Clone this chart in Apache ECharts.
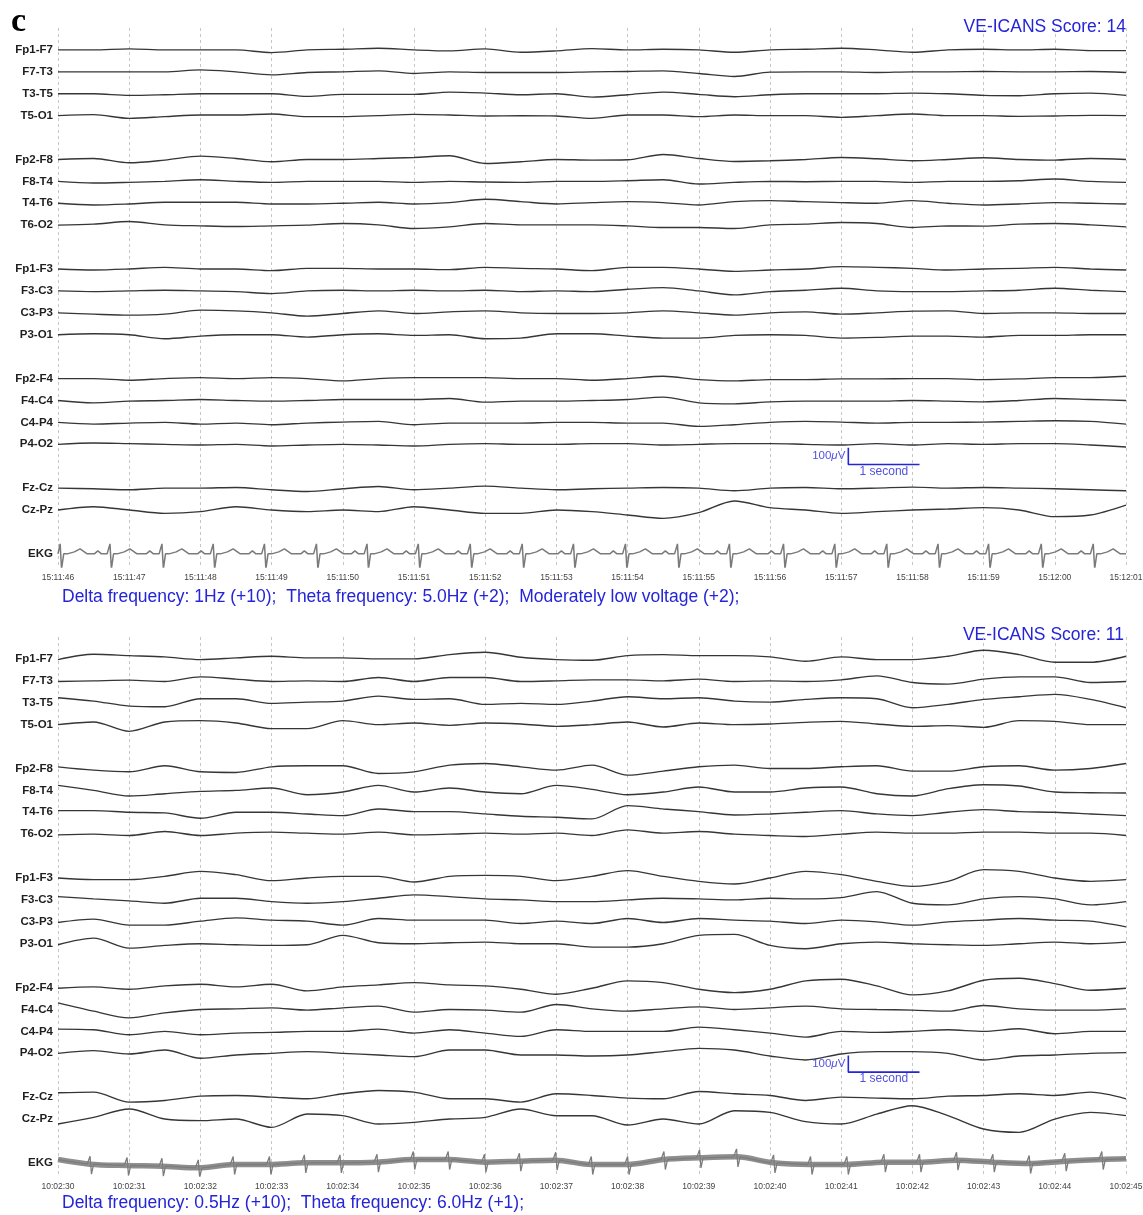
<!DOCTYPE html>
<html><head><meta charset="utf-8">
<script src="https://cdn.jsdelivr.net/npm/echarts@6/dist/echarts.min.js"></script>
<style>html,body{margin:0;padding:0;background:#fff}#c{width:1143px;height:1215px}</style>
</head><body><div id="c"></div>
<script>
// ---------- labels ----------
const channels = ['Fp1-F7','F7-T3','T3-T5','T5-O1','Fp2-F8','F8-T4','T4-T6','T6-O2','Fp1-F3','F3-C3','C3-P3','P3-O1','Fp2-F4','F4-C4','C4-P4','P4-O2','Fz-Cz','Cz-Pz'];
const timeLabels1 = ['15:11:46','15:11:47','15:11:48','15:11:49','15:11:50','15:11:51','15:11:52','15:11:53','15:11:54','15:11:55','15:11:56','15:11:57','15:11:58','15:11:59','15:12:00','15:12:01'];
const timeLabels2 = ['10:02:30','10:02:31','10:02:32','10:02:33','10:02:34','10:02:35','10:02:36','10:02:37','10:02:38','10:02:39','10:02:40','10:02:41','10:02:42','10:02:43','10:02:44','10:02:45'];
const scoreText1 = 'VE-ICANS Score: 14';
const scoreText2 = 'VE-ICANS Score: 11';
const noteText1 = 'Delta frequency: 1Hz (+10);  Theta frequency: 5.0Hz (+2);  Moderately low voltage (+2);';
const noteText2 = 'Delta frequency: 0.5Hz (+10);  Theta frequency: 6.0Hz (+1);';
const sampleStep = 0.5; // seconds between samples of each trace (µV)

// ---------- panel 1 traces (µV, sampled every 0.5 s from 0 to 15 s) ----------
const p1_Fp1F7 = [0,0,6,0,0,0,-16,0,4,10,0,-6,6,-14,-6,8,0,4,0,-14,0,4,10,0,-14,0,4,0,4,-4,-4];
const p1_F7T3  = [0,0,0,0,12,0,-18,-4,0,6,-10,0,-4,-4,-4,0,2,6,-10,-28,-2,0,0,-4,0,0,2,0,0,2,-4];
const p1_T3T5  = [0,0,-10,-6,0,0,0,-16,-4,-4,-4,10,4,-6,0,-20,-6,10,-4,-18,-6,0,0,0,4,0,-10,-12,0,4,-10];
const p1_T5O1  = [0,6,-16,-6,4,4,10,-6,-6,0,8,4,-2,0,-2,-16,4,4,-6,4,0,0,-10,0,10,0,0,-4,-2,2,0];
const p1_Fp2F8 = [0,6,-20,-4,20,6,-14,0,0,6,12,22,-24,-14,0,-4,-2,30,6,-12,-8,0,12,4,-8,0,10,0,-4,6,0];
const p1_F8T4  = [0,-10,-6,0,10,0,-6,0,0,0,-6,0,-4,-6,0,0,4,10,-16,-6,0,-2,0,0,-6,0,0,4,14,0,-6];
const p1_T4T6  = [0,-10,-4,6,6,6,-4,-4,0,6,-4,4,24,10,-4,4,10,4,-10,10,16,10,4,0,16,0,-10,-4,4,0,-4];
const p1_T6O2  = [0,6,22,2,-4,-8,-4,0,10,2,-20,-10,10,2,2,2,-4,-14,-14,-20,2,6,16,10,-14,-4,-6,6,10,2,-10];
const p1_Fp1F3 = [0,-6,0,10,0,0,-10,4,4,0,0,-4,10,4,0,-10,10,10,0,-14,-6,0,14,10,4,-6,0,4,10,0,-6];
const p1_F3C3  = [0,-4,0,4,0,-4,-16,0,4,0,4,0,4,-4,0,-4,10,20,0,-24,-4,4,16,0,-4,-4,0,4,16,4,-4];
const p1_C3P3  = [0,-8,-14,-8,16,12,0,-20,-4,12,-4,6,12,0,-4,-4,0,12,0,-14,0,6,-8,0,10,12,-4,0,0,-4,-4];
const p1_P3O1  = [0,6,0,-24,-8,0,0,-14,0,6,-4,0,-24,-20,6,6,-8,-20,-20,-4,0,-4,-20,-16,-8,-8,-14,-4,-4,0,0];
const p1_Fp2F4 = [0,0,-10,0,6,0,6,0,-14,0,6,6,6,0,0,-10,0,14,-6,-14,-6,-6,-2,-2,0,0,-6,-2,6,6,14];
const p1_F4C4  = [0,-14,-4,0,6,0,-4,0,6,6,6,12,-10,-4,-4,0,6,20,-14,-20,-8,-4,-4,-4,0,-4,-8,0,12,6,0];
const p1_C4P4  = [0,-10,-4,0,-10,-4,-14,-4,2,6,-14,-4,-4,-4,0,0,-4,-4,-24,-14,0,6,2,-4,0,0,2,6,10,6,-10];
const p1_P4O2  = [0,8,4,0,-4,0,-10,-4,0,-4,-10,0,4,0,0,4,4,-4,0,4,4,0,-4,4,-4,4,0,4,4,-4,-16];
const p1_FzCz  = [0,-4,-10,0,0,4,-10,-20,-4,10,-10,0,12,0,-10,-4,0,4,0,-16,0,4,-4,0,6,0,4,0,-4,-10,-16];
const p1_CzPz  = [0,20,0,-20,-10,20,0,-10,0,-10,20,0,-20,-20,0,-10,-30,-50,-16,54,14,0,-20,-10,0,6,14,0,-40,-30,30];

// ---------- panel 2 traces (µV, sampled every 0.5 s from 0 to 15 s) ----------
const p2_Fp1F7 = [-4,28,20,12,-4,6,16,6,6,0,0,26,40,10,-4,-8,20,26,20,20,12,-14,12,-4,-4,16,52,26,-20,-20,16];
const p2_F7T3  = [-4,0,4,-4,24,10,-4,0,-4,20,-4,20,20,-4,0,6,6,0,10,-4,0,-4,6,30,-10,-20,10,24,24,-10,-4];
const p2_T3T5  = [30,10,-20,-24,24,24,-4,4,10,40,20,24,-10,-4,-10,10,36,24,30,10,4,20,30,24,-30,-10,20,36,50,20,-30];
const p2_T5O1  = [0,16,-40,16,24,10,-24,-24,24,0,10,-4,10,4,-10,0,16,-14,10,0,4,14,20,4,-10,-6,-16,24,20,0,0];
const p2_Fp2F8 = [10,-10,-20,16,-20,-24,10,16,16,-30,-20,20,30,10,-10,20,-40,-16,10,20,0,0,10,16,-16,-16,10,16,-10,0,30];
const p2_F8T4  = [30,0,-34,-20,-6,0,14,-26,-10,30,-10,14,-10,-20,30,6,-26,-10,20,-10,-10,14,20,-20,-34,10,34,26,-10,-14,-16];
const p2_T4T6  = [10,10,0,-4,-36,0,0,-10,-20,20,4,4,-10,-24,-30,-40,40,20,4,-16,-10,0,10,-10,-20,0,16,4,0,-10,-20];
const p2_T6O2  = [-4,0,-8,16,-8,6,12,6,0,12,-4,0,6,0,6,-8,26,6,16,0,-8,-14,0,12,6,6,12,12,6,6,-8];
const p2_Fp1F3 = [0,-10,-10,10,40,20,-16,0,10,10,-24,10,16,10,-16,10,44,10,-20,-36,0,40,20,-20,-50,-20,50,40,0,-20,-10];
const p2_F3C3  = [20,6,-6,-20,10,10,-10,-20,-10,10,30,20,6,0,-10,-10,0,10,6,0,10,6,14,50,-20,-30,6,20,6,-30,-10];
const p2_C3P3  = [-4,16,-20,-20,4,24,10,4,-20,20,10,10,10,-10,4,-10,20,-4,20,10,4,-10,10,0,-20,0,10,20,10,4,-30];
const p2_P3O1  = [-6,34,-26,-10,0,-6,-10,-6,50,6,0,6,10,0,0,-20,-20,0,50,56,-10,-30,0,10,0,-6,-10,0,10,0,10];
const p2_Fp2F4 = [-4,4,-10,10,20,4,20,-20,4,16,30,16,10,-10,-40,-4,40,30,-10,-30,-10,40,50,10,-44,-20,44,56,24,-16,-4];
const p2_F4C4  = [40,-10,-50,-20,0,4,10,-4,10,20,-16,0,-4,-16,30,4,-10,4,16,0,10,20,4,0,-4,-10,24,4,-4,-4,4];
const p2_C4P4  = [14,10,-20,0,-20,-10,-6,0,0,14,-10,10,-10,-30,10,0,0,0,26,10,-10,-34,0,-6,0,10,0,16,-14,0,0];
const p2_P4O2  = [0,16,-4,20,-30,-10,0,10,0,-10,-20,20,20,-10,-10,-16,-10,10,30,20,-16,-40,-4,10,10,0,-40,-16,-10,0,4];
const p2_FzCz  = [26,30,-30,-20,6,10,0,-10,20,40,30,-10,-10,-30,20,10,-6,-10,34,20,10,-20,0,-6,-10,6,10,20,10,30,-10];
const p2_CzPz  = [-30,10,60,0,-10,0,-50,30,20,-30,-20,0,10,60,20,20,-36,0,-30,50,40,-16,-30,30,80,20,-60,-80,0,40,20];

// ---------- EKG (R-peak times in s, baseline level at each beat in µV, beat waveform) ----------
const ekg1Beats = [0.03,0.73,1.46,2.18,2.90,3.63,4.34,5.06,5.79,6.52,7.24,7.97,8.70,9.43,10.19,10.91,11.64,12.36,13.07,13.81,14.54];
const ekg1Levels = [0,0,0,0,0,0,0,0,0,0,0,0,0,0,0,0,0,0,0,0,0];
const ekg1Edges = [0,0];
const ekg1WaveT = [-0.22,-0.17,-0.12,-0.04,-0.015,0,0.02,0.05,0.1,0.2,0.28,0.38];
const ekg1WaveV = [0,18,0,0,-12,60,-90,0,0,12,30,0];
const ekg2Beats = [0.45,0.97,1.46,1.97,2.46,2.97,3.46,3.96,4.48,4.99,5.48,5.99,6.48,6.99,7.49,8.00,8.51,9.01,9.53,10.05,10.57,11.08,11.60,12.10,12.62,13.13,13.64,14.14,14.66];
const ekg2Levels = [-8,-16,-20,-30,-10,-10,0,0,4,20,20,4,10,16,-10,-10,20,30,36,0,-10,-10,4,4,16,4,-4,10,20];
const ekg2Edges = [20,24];
const ekg2WaveT = [-0.04,-0.015,0,0.02,0.05];
const ekg2WaveV = [0,-12,48,-60,0];

// ---------- scale bar ----------
const scaleUv = 100, scaleSec = 1;

const panel1 = [p1_Fp1F7,p1_F7T3,p1_T3T5,p1_T5O1,p1_Fp2F8,p1_F8T4,p1_T4T6,p1_T6O2,p1_Fp1F3,p1_F3C3,p1_C3P3,p1_P3O1,p1_Fp2F4,p1_F4C4,p1_C4P4,p1_P4O2,p1_FzCz,p1_CzPz];
const panel2 = [p2_Fp1F7,p2_F7T3,p2_T3T5,p2_T5O1,p2_Fp2F8,p2_F8T4,p2_T4T6,p2_T6O2,p2_Fp1F3,p2_F3C3,p2_C3P3,p2_P3O1,p2_Fp2F4,p2_F4C4,p2_C4P4,p2_P4O2,p2_FzCz,p2_CzPz];

// ---------- layout / build ----------
const uvPerSlot = 131.5;
const slotOf = i => i + Math.floor(i / 4);
const EKG_SLOT = 23;
const slotName = {};
channels.forEach((n, i) => slotName[slotOf(i)] = n);
slotName[EKG_SLOT] = 'EKG';

const BLUE = '#2424d8';
const FONT = 'Liberation Sans, Arial, sans-serif';

const toY = v => EKG_SLOT - v / uvPerSlot;
function ekgData(beats, levels, wt, wv, edges) {
  const pts = [[0, edges[0]]];
  beats.forEach((b, j) => wt.forEach((o, k) => {
    const t = b + o;
    if (t > 0 && t < 15) pts.push([t, levels[j] + wv[k]]);
  }));
  pts.push([15, edges[1]]);
  return pts.map(([t, v]) => [t, toY(v)]);
}
function ekgBand(beats, levels, edges) {
  const pts = [[0, edges[0]]];
  beats.forEach((b, j) => pts.push([b, levels[j]]));
  pts.push([15, edges[1]]);
  return pts.map(([t, v]) => [t, toY(v)]);
}

const series = [];
[panel1, panel2].forEach((panel, p) => {
  panel.forEach((vals, i) => {
    series.push({
      type: 'line', xAxisIndex: p, yAxisIndex: p, symbol: 'none', smooth: 0.3, silent: true,
      lineStyle: { color: '#363636', width: 1.35 },
      data: vals.map((v, k) => [k * sampleStep, slotOf(i) - v / uvPerSlot])
    });
  });
});
series.push({
  type: 'line', xAxisIndex: 0, yAxisIndex: 0, symbol: 'none', silent: true,
  lineStyle: { color: '#7a7a7a', width: 1.5 },
  data: ekgData(ekg1Beats, ekg1Levels, ekg1WaveT, ekg1WaveV, ekg1Edges)
});
// panel 2 EKG: broad noisy band + thin beat complexes
series.push({
  type: 'line', xAxisIndex: 1, yAxisIndex: 1, symbol: 'none', silent: true, smooth: 0.3,
  lineStyle: { color: '#8e8e8e', width: 5.5 },
  data: ekgBand(ekg2Beats, ekg2Levels, ekg2Edges)
});
series.push({
  type: 'line', xAxisIndex: 1, yAxisIndex: 1, symbol: 'none', silent: true,
  lineStyle: { color: '#7c7c7c', width: 1.3 },
  data: ekgData(ekg2Beats, ekg2Levels, ekg2WaveT, ekg2WaveV, ekg2Edges)
});
// scale bars
const sbT = 11.1, sbSlot = [18.92, 18.86];
[0, 1].forEach(p => {
  const y0 = sbSlot[p], y1 = y0 - scaleUv / uvPerSlot;
  series.push({
    type: 'line', xAxisIndex: p, yAxisIndex: p, symbol: 'none', silent: true,
    lineStyle: { color: BLUE, width: 1.6 },
    data: [[sbT, y1], [sbT, y0], [sbT + scaleSec, y0]]
  });
  series.push({
    type: 'scatter', xAxisIndex: p, yAxisIndex: p, symbolSize: 0, silent: true,
    data: [
      { value: [sbT, (y0 + y1) / 2], label: { show: true, position: 'left', distance: 3,
        formatter: '100{m|μ}V', color: BLUE, fontSize: 11.5, fontFamily: FONT,
        rich: { m: { fontStyle: 'italic', color: BLUE, fontSize: 11.5, fontFamily: FONT } } } },
      { value: [sbT + scaleSec / 2, y0], label: { show: true, position: 'bottom', distance: 1,
        formatter: '1 second', color: BLUE, fontSize: 12, fontFamily: FONT } }
    ]
  });
});

function xAxis(idx, labels) {
  return {
    type: 'value', gridIndex: idx, min: 0, max: 15, interval: 1,
    axisLine: { show: false }, axisTick: { show: false },
    axisLabel: { formatter: v => labels[Math.round(v)], fontSize: 8.5, color: '#444', margin: 6,
      fontFamily: FONT, showMinLabel: true, showMaxLabel: true, hideOverlap: false },
    splitLine: { show: true, lineStyle: { color: '#c6c6c6', width: 1, type: [3, 3] } }
  };
}
function yAxis(idx) {
  return {
    type: 'value', gridIndex: idx, inverse: true, min: -1, max: 23.6, interval: 1,
    axisLine: { show: false }, axisTick: { show: false }, splitLine: { show: false },
    axisLabel: {
      formatter: v => { const r = Math.round(v); return Math.abs(v - r) < 1e-6 && slotName[r] ? slotName[r] : ''; },
      fontSize: 11.5, fontWeight: 'bold', color: '#1e1e1e', margin: 5, fontFamily: FONT,
      showMinLabel: true, showMaxLabel: true, hideOverlap: false
    }
  };
}

const chart = echarts.init(document.getElementById('c'), null, { renderer: 'canvas' });
chart.setOption({
  animation: false,
  backgroundColor: '#fff',
  grid: [
    { left: 58, top: 28, width: 1068, height: 539, containLabel: false, outerBoundsMode: 'none' },
    { left: 58, top: 637, width: 1068, height: 539, containLabel: false, outerBoundsMode: 'none' }
  ],
  xAxis: [xAxis(0, timeLabels1), xAxis(1, timeLabels2)],
  yAxis: [yAxis(0), yAxis(1)],
  graphic: [
    { type: 'text', left: 11, top: 5, silent: true,
      style: { text: 'c', fill: '#000', font: 'bold 34px "Liberation Serif", "Times New Roman", serif' } },
    { type: 'text', right: 17, top: 18, silent: true,
      style: { text: scoreText1, fill: BLUE, font: '17.5px ' + FONT } },
    { type: 'text', right: 19, top: 626, silent: true,
      style: { text: scoreText2, fill: BLUE, font: '17.5px ' + FONT } },
    { type: 'text', left: 62, top: 588, silent: true,
      style: { text: noteText1, fill: BLUE, font: '17.5px ' + FONT } },
    { type: 'text', left: 62, top: 1194, silent: true,
      style: { text: noteText2, fill: BLUE, font: '17.5px ' + FONT } }
  ],
  series: series
});
</script></body></html>
